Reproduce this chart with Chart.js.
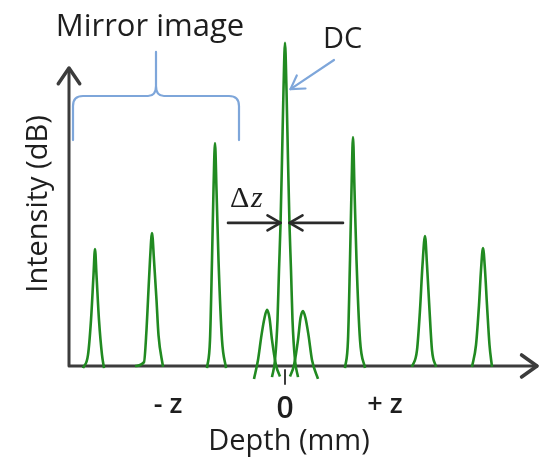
<!DOCTYPE html>
<html lang="en">
<head>
<meta charset="UTF-8">
<title>Intensity vs Depth</title>
<script src="https://cdn.jsdelivr.net/npm/chart.js"></script>
<style>
  html, body { margin: 0; padding: 0; background: #fff; }
  #wrap { width: 543px; height: 466px; }
</style>
</head>
<body>
<div id="wrap"><canvas id="chart"></canvas></div>
<script>
// [depth, intensity(dB)] points, one list per peak
const mirrorFar  = [[-20.2,-0.7],[-19.7,3.7],[-19.4,15.3],[-19.15,30.3],[-19.0,39],[-18.85,30.3],[-18.6,15.3],[-18.3,3.7],[-18.1,-0.7]];
const mirrorMid  = [[-15.0,0],[-14.1,1.3],[-13.85,12],[-13.7,22],[-13.5,35.3],[-13.3,44.3],[-13.1,35.3],[-12.85,22],[-12.65,10.3],[-12.2,-0.3]];
const mirrorNear = [[-7.8,-0.7],[-7.5,8.7],[-7.3,35.3],[-7.15,58.7],[-7.0,74.3],[-6.85,58.7],[-6.65,35.3],[-6.3,8.7],[-5.9,-0.7]];
const sideLeft   = [[-3.1,-4.3],[-2.7,2],[-2.35,10.3],[-2.05,16],[-1.8,18.7],[-1.55,16],[-1.3,8.7],[-0.9,0.3],[-0.5,-3.5]];
const dcPeak     = [[-1.3,-3.7],[-1.0,2],[-0.75,15.3],[-0.6,32],[-0.45,47],[-0.3,68.7],[-0.15,92],[0,107.7],[0.15,92],[0.3,68.7],[0.45,47],[0.6,32],[0.75,15.3],[1.0,2],[1.3,-3.7]];
const sideRight  = [[0.5,-3.5],[0.9,0.3],[1.3,8.7],[1.55,16],[1.8,18.3],[2.05,16],[2.35,10.3],[2.7,2],[3.3,-4.3]];
const imageNear  = [[6.0,-0.7],[6.3,8.7],[6.5,35.3],[6.65,58.7],[6.8,76.3],[6.95,58.7],[7.15,35.3],[7.5,8.7],[8.0,-0.7]];
const imageMid   = [[12.7,-0.3],[13.2,5.3],[13.5,18.7],[13.75,33.7],[14.0,43.3],[14.2,33.7],[14.45,18.7],[14.7,5.3],[15.1,-0.3]];
const imageFar   = [[18.7,-0.3],[19.1,7],[19.4,20.3],[19.6,32],[19.8,39.3],[20.0,32],[20.2,20.3],[20.45,7],[20.7,-0.3]];

const peaks = [mirrorFar, mirrorMid, mirrorNear, sideLeft, dcPeak, sideRight, imageNear, imageMid, imageFar];

const tickValues = [-11.7, 0, 10.0];
const tickLabels = ['- z', '0', '+ z'];

const GREEN = '#218a21';
const AXIS = '#3c3c3c';
const BLUE = '#7ea6da';
const FONT = '"Open Sans", sans-serif';

// open V head; angle points from the tip back along the shaft
function arrowHead(ctx, tx, ty, angle, len, spread) {
  ctx.beginPath();
  ctx.moveTo(tx + len * Math.cos(angle + spread), ty + len * Math.sin(angle + spread));
  ctx.lineTo(tx, ty);
  ctx.lineTo(tx + len * Math.cos(angle - spread), ty + len * Math.sin(angle - spread));
  ctx.stroke();
}

const decorations = {
  id: 'decorations',
  beforeDatasetsDraw(chart) {
    const { ctx, chartArea, scales: { x, y } } = chart;
    const x0 = chartArea.left, y0 = y.getPixelForValue(0);
    const yTop = y.getPixelForValue(99), xEnd = chartArea.right;
    ctx.save();
    ctx.strokeStyle = AXIS;
    ctx.lineWidth = 3;
    ctx.lineCap = 'round';
    ctx.lineJoin = 'round';
    ctx.beginPath();
    ctx.moveTo(x0, yTop);
    ctx.lineTo(x0, y0);
    ctx.lineTo(xEnd, y0);
    ctx.stroke();
    ctx.lineWidth = 3.5;
    arrowHead(ctx, x0, yTop - 1, Math.PI / 2, 19, 0.6);
    arrowHead(ctx, xEnd, y0, Math.PI, 19, 0.62);
    // tick at 0
    ctx.lineWidth = 2;
    const t0 = x.getPixelForValue(0);
    ctx.beginPath();
    ctx.moveTo(t0, y0 + 4);
    ctx.lineTo(t0, y0 + 18);
    ctx.stroke();
    ctx.restore();
  },
  afterDraw(chart) {
    const { ctx, scales: { x, y } } = chart;
    const px = v => x.getPixelForValue(v), py = v => y.getPixelForValue(v);
    ctx.save();
    ctx.fillStyle = '#1e1e1e';
    ctx.textAlign = 'center';
    ctx.textBaseline = 'alphabetic';

    // tick labels
    tickValues.forEach((v, i) => {
      const zero = tickLabels[i] === '0';
      ctx.font = (zero ? '600 30px ' : '600 27px ') + FONT;
      ctx.fillText(tickLabels[i], px(v), py(0) + (zero ? 52 : 47));
    });

    ctx.font = '29px ' + FONT;
    ctx.fillText('Depth (mm)', px(0.4), py(0) + 84);
    ctx.font = '31px ' + FONT;
    ctx.fillText('Mirror image', px(-13.5), 36);
    ctx.font = '29px ' + FONT;
    ctx.textAlign = 'left';
    ctx.fillText('DC', px(3.8), 48);

    ctx.save();
    ctx.translate(47, py(54));
    ctx.rotate(-Math.PI / 2);
    ctx.textAlign = 'center';
    ctx.fillText('Intensity (dB)', 0, 0);
    ctx.restore();

    // delta z label
    ctx.textAlign = 'left';
    ctx.font = '30px "Liberation Serif", serif';
    ctx.fillText('\u0394', px(-5.5), py(53));
    ctx.font = 'italic 30px "Liberation Serif", serif';
    ctx.fillText('z', px(-3.4), py(53));

    // delta z arrows
    ctx.strokeStyle = '#2a2a2a';
    ctx.lineWidth = 2.6;
    ctx.lineCap = 'round';
    ctx.lineJoin = 'round';
    const ay = py(47.7);
    ctx.beginPath();
    ctx.moveTo(px(-5.7), ay); ctx.lineTo(px(-0.45), ay);
    ctx.moveTo(px(5.8), ay); ctx.lineTo(px(0.45), ay);
    ctx.stroke();
    arrowHead(ctx, px(-0.45), ay, Math.PI, 15, 0.52);
    arrowHead(ctx, px(0.45), ay, 0, 15, 0.52);

    // brace over mirror image
    ctx.strokeStyle = BLUE;
    ctx.lineWidth = 2.2;
    const bl = px(-21.2), br = px(-4.6), bc = px(-12.9);
    const bEnd = py(75.3), bMid = py(90), bTip = py(104.7);
    ctx.beginPath();
    ctx.moveTo(bl, bEnd);
    ctx.lineTo(bl, bMid + 10);
    ctx.quadraticCurveTo(bl, bMid, bl + 10, bMid);
    ctx.lineTo(bc - 8, bMid);
    ctx.quadraticCurveTo(bc, bMid, bc, bMid - 10);
    ctx.lineTo(bc, bTip);
    ctx.moveTo(bc, bMid - 10);
    ctx.quadraticCurveTo(bc, bMid, bc + 8, bMid);
    ctx.lineTo(br - 10, bMid);
    ctx.quadraticCurveTo(br, bMid, br, bMid + 10);
    ctx.lineTo(br, bEnd);
    ctx.stroke();

    // DC pointer
    const tipX = px(0.55), tipY = py(92.3);
    const tailX = px(4.9), tailY = py(102);
    ctx.beginPath();
    ctx.moveTo(tailX, tailY); ctx.lineTo(tipX, tipY);
    ctx.stroke();
    arrowHead(ctx, tipX, tipY, Math.atan2(tailY - tipY, tailX - tipX), 15, 0.55);
    ctx.restore();
  }
};

new Chart(document.getElementById('chart'), {
  type: 'line',
  data: {
    datasets: peaks.map(pts => ({
      data: pts.map(p => ({ x: p[0], y: p[1] })),
      borderColor: GREEN,
      borderWidth: 2.6,
      pointRadius: 0,
      cubicInterpolationMode: 'monotone',
      fill: false
    }))
  },
  options: {
    responsive: true,
    maintainAspectRatio: false,
    animation: false,
    layout: { padding: { left: 69, right: 6, top: 30, bottom: 70 } },
    plugins: { legend: { display: false }, tooltip: { enabled: false } },
    scales: {
      x: { type: 'linear', min: -21.6, max: 25.2, display: false },
      y: { min: -10, max: 112, display: false }
    }
  },
  plugins: [decorations]
});
</script>
</body>
</html>
